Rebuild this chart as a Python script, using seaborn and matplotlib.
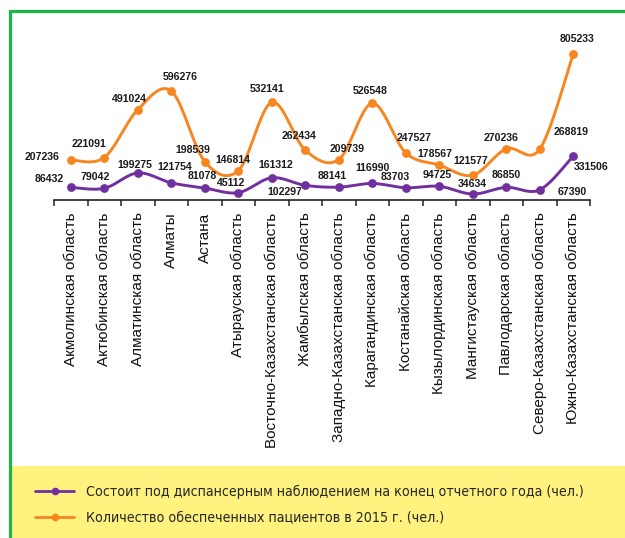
import numpy as np
import pandas as pd
import matplotlib
matplotlib.use("Agg")
import matplotlib.pyplot as plt
from matplotlib import font_manager
from matplotlib.lines import Line2D
from matplotlib.patches import Rectangle
import seaborn as sns

regions = ["Акмолинская область", "Актюбинская область", "Алматинская область",
           "Алматы", "Астана", "Атырауская область",
           "Восточно-Казахстанская область", "Жамбылская область",
           "Западно-Казахстанская область", "Карагандинская область",
           "Костанайская область", "Кызылординская область",
           "Мангистауская область", "Павлодарская область",
           "Северо-Казахстанская область", "Южно-Казахстанская область"]

observed = [86432, 79042, 199275, 121754, 81078, 45112, 161312, 102297,
            88141, 116990, 83703, 94725, 34634, 86850, 67390, 331506]
provided = [207236, 221091, 491024, 596276, 198539, 146814, 532141, 262434,
            209739, 526548, 247527, 178567, 121577, 270236, 268819, 805233]

label_observed = "Состоит под диспансерным наблюдением на конец отчетного года (чел.)"
label_provided = "Количество обеспеченных пациентов в 2015 г. (чел.)"

# label offsets in pixels (right, down) relative to each marker
off_provided = [(-28.5, -3), (-15, -14), (-8.5, -11), (9, -14), (-12, -12), (-5, -11),
                (-5, -13), (-6.5, -14), (8, -11), (-2.5, -12), (8, -15), (-4, -11),
                (-2, -14), (-5, -11), (31, -17), (3.5, -15)]
off_observed = [(-22, -8), (-9, -11), (-3, -8), (3.5, -16), (-2.5, -12), (-7, -10),
                (3.5, -13), (-20.5, 7), (-6.5, -11), (0.5, -15), (-11, -11), (-2, -11),
                (0, -10), (0, -12), (32, 2), (18, 11)]

PURPLE = "#7030A0"
ORANGE = "#F7861F"
GREEN = "#1DB44C"
YELLOW = "#FFF27F"

sns.set_theme(style="white")
plt.rcParams["font.family"] = ["Liberation Sans", "DejaVu Sans"]

# legend font: a narrow face when one is available
_names = {(f.name, f.stretch) for f in font_manager.fontManager.ttflist}
if any(n == "Liberation Sans Narrow" for n, _ in _names):
    legend_prop = {"family": ["Liberation Sans Narrow"], "size": 12}
elif any(n == "DejaVu Sans" and s in ("condensed", "semi-condensed") for n, s in _names):
    legend_prop = {"family": ["DejaVu Sans"], "stretch": "condensed", "size": 10.2}
else:
    legend_prop = {"family": ["Liberation Sans"], "size": 10}

df = pd.DataFrame({"idx": np.arange(len(regions)), "region": regions,
                   "observed": observed, "provided": provided})


def smooth(x, y, n=24):
    """Catmull-Rom style cubic Bezier through the points (spreadsheet smoothing)."""
    x = np.asarray(x, float)
    y = np.asarray(y, float)
    px = np.concatenate([[x[0]], x, [x[-1]]])
    py = np.concatenate([[y[0]], y, [y[-1]]])
    t = np.linspace(0, 1, n)[:, None]
    xs, ys = [], []
    for i in range(len(x) - 1):
        p0 = np.array([px[i + 1], py[i + 1]])
        p3 = np.array([px[i + 2], py[i + 2]])
        p1 = p0 + (p3 - np.array([px[i], py[i]])) / 6.0
        p2 = p3 - (np.array([px[i + 3], py[i + 3]]) - p0) / 6.0
        b = ((1 - t) ** 3) * p0 + 3 * ((1 - t) ** 2) * t * p1 + 3 * (1 - t) * t ** 2 * p2 + t ** 3 * p3
        xs.append(b[:, 0])
        ys.append(b[:, 1])
    return np.concatenate(xs), np.concatenate(ys)


fig = plt.figure(figsize=(6.25, 5.38), dpi=100)
W, H = 625, 538

# frame and legend band
fig.patches.append(Rectangle((11 / W, 0), 1, (538 - 466) / H, transform=fig.transFigure,
                             facecolor=YELLOW, edgecolor="none", zorder=0))
fig.patches.append(Rectangle((9.5 / W, -0.2), 1.2, 1.2 - 10.5 / H, transform=fig.transFigure,
                             facecolor="none", edgecolor=GREEN, linewidth=2.3, zorder=1))

ax = fig.add_axes([54 / W, 1 - 200 / H, (590 - 54) / W, (200 - 12) / H])
ax2 = ax.twinx()
for a in (ax, ax2):
    a.set_facecolor("none")
    for s in ("left", "right", "top"):
        a.spines[s].set_visible(False)
ax.spines["bottom"].set_color("#222222")
ax.spines["bottom"].set_linewidth(1.2)
ax2.spines["bottom"].set_visible(False)

ax.set_xlim(-0.5, len(regions) - 0.5)
ax.set_ylim(-18471, 1042183)
ax2.set_ylim(-12226, 1456715)

# smoothed lines
sx, sy = smooth(df["idx"], df["provided"])
sns.lineplot(x=sx, y=sy, sort=False, ax=ax, color=ORANGE, linewidth=2.1, estimator=None)
sx2, sy2 = smooth(df["idx"], df["observed"])
sns.lineplot(x=sx2, y=sy2, sort=False, ax=ax2, color=PURPLE, linewidth=2.1, estimator=None)

sns.scatterplot(data=df, x="idx", y="provided", ax=ax, color=ORANGE, s=40,
                edgecolor=ORANGE, linewidth=0, zorder=3)
sns.scatterplot(data=df, x="idx", y="observed", ax=ax2, color=PURPLE, s=40,
                edgecolor=PURPLE, linewidth=0, zorder=3)

for a, col, offs in ((ax, "provided", off_provided), (ax2, "observed", off_observed)):
    for i, v in enumerate(df[col]):
        dx, dy = offs[i]
        a.annotate(f"{v}", (i, v), xytext=(dx, -dy), textcoords="offset pixels",
                   ha="center", va="center", fontsize=7.6, fontweight="bold",
                   color="#1a1a1a", zorder=5)

for a in (ax, ax2):
    a.set_xlabel("")
    a.set_ylabel("")
    a.set_yticks([])

# boundary ticks and centred category labels
ax.set_xticks(np.arange(-0.5, len(regions), 1.0))
ax.set_xticklabels([])
ax.tick_params(axis="x", which="major", direction="out", length=4.5, width=1.1,
               color="#222222", bottom=True)
ax.set_xticks(np.arange(len(regions)), minor=True)
ax.set_xticklabels(regions, minor=True, rotation=90, fontsize=11, color="#111111")
ax.tick_params(axis="x", which="minor", length=0, pad=9)
ax2.tick_params(axis="x", which="both", bottom=False, labelbottom=False)

handles = [Line2D([0], [0], color=PURPLE, lw=2.0, marker="o", markersize=4.5),
           Line2D([0], [0], color=ORANGE, lw=2.0, marker="o", markersize=4.5)]
leg = fig.legend(handles, [label_observed, label_provided], loc="center left",
                 bbox_to_anchor=(22 / W, 1 - 505 / H), frameon=False, numpoints=1,
                 handlelength=2.8, handletextpad=0.85, labelspacing=0.9,
                 prop=legend_prop)

fig.savefig("out.png", dpi=100)
